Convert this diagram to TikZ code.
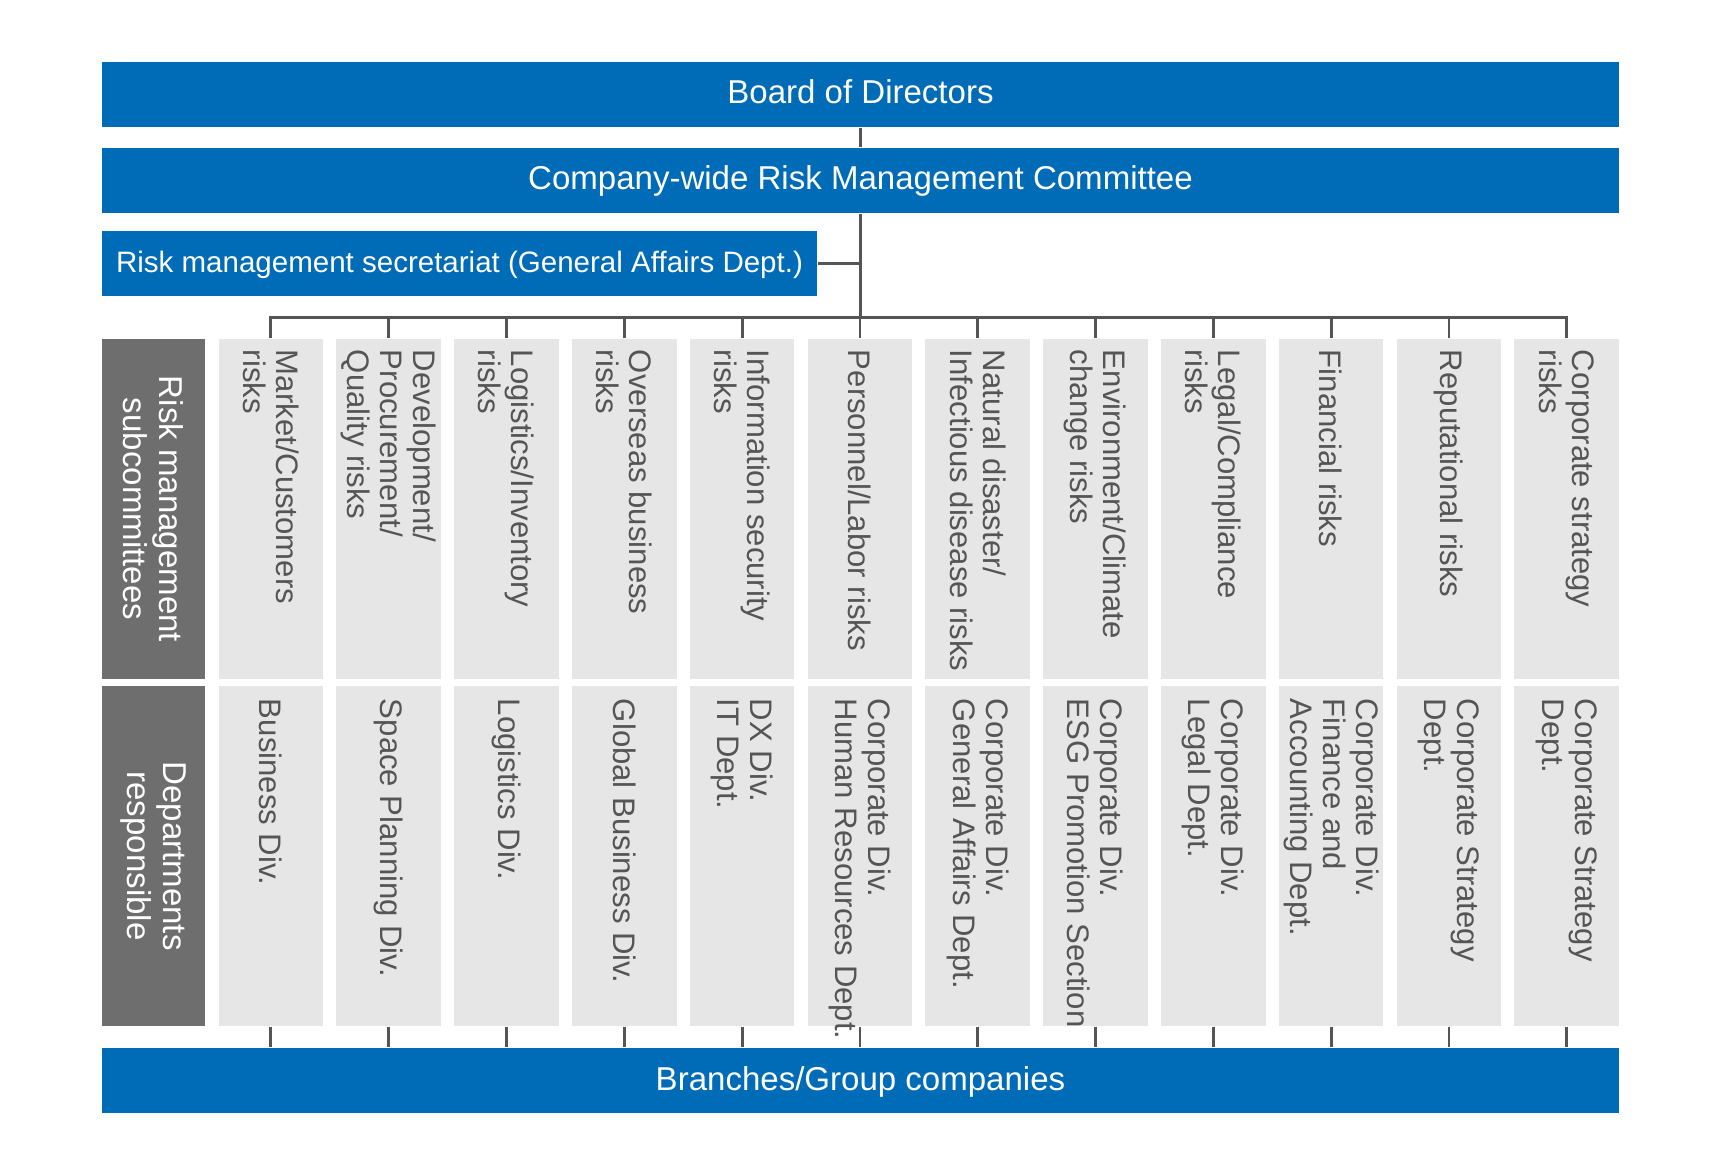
\documentclass[tikz,border=0pt]{standalone}
\usepackage{fontspec}
\setmainfont{Liberation Sans}
\usetikzlibrary{positioning, calc}

\definecolor{boardblue}{RGB}{0,107,182}
\definecolor{boxgray}{RGB}{230,230,230}
\definecolor{labelgray}{RGB}{110,110,110}
\definecolor{textgray}{RGB}{85,85,85}

\tikzset{
  bluebar/.style={fill=boardblue, text=white, minimum width=15.17cm, minimum height=0.65cm, inner sep=0, text height=0.23cm, text depth=0.05cm, font=\fontsize{9.4}{11}\selectfont},
  labelbox/.style={fill=labelgray, text=white, rotate=-90, minimum width=3.40cm, minimum height=1.03cm, inner sep=0, align=center, font=\fontsize{9.4}{10.3}\selectfont},
  riskbox/.style={fill=boxgray, minimum width=1.045cm, minimum height=3.40cm, inner sep=0},
  risktext/.style={rotate=-90, anchor=west, align=left, inner sep=0, text=textgray, font=\fontsize{8.85}{9.4}\selectfont},
  link/.style={draw=textgray, line width=0.8pt}
}

\begin{document}
\begin{tikzpicture}
        \useasboundingbox (0,0) rectangle (17.2,11.76);

        % Top boxes
        \node[bluebar] (board) at (8.605, 10.815) {Board of Directors};
        \node[bluebar] (com) at (8.605, 9.955) {Company-wide Risk Management Committee};
        \node[bluebar, minimum width=7.15cm, font=\fontsize{8.4}{10}\selectfont] (sec) at (4.595, 9.125) {Risk management secretariat (General Affairs Dept.)};

        % Row labels
        \node[labelbox] (lab1) at (1.535, 6.67) {Risk management\\subcommittees};
        \node[labelbox] (lab2) at (1.535, 3.20) {Departments\\responsible};

        % Subcommittees
        \node[riskbox] (r0) at (2.709, 6.67) {};
        \node[riskbox] (r1) at (3.887, 6.67) {};
        \node[riskbox] (r2) at (5.065, 6.67) {};
        \node[riskbox] (r3) at (6.243, 6.67) {};
        \node[riskbox] (r4) at (7.421, 6.67) {};
        \node[riskbox] (r5) at (8.599, 6.67) {};
        \node[riskbox] (r6) at (9.777, 6.67) {};
        \node[riskbox] (r7) at (10.955, 6.67) {};
        \node[riskbox] (r8) at (12.133, 6.67) {};
        \node[riskbox] (r9) at (13.311, 6.67) {};
        \node[riskbox] (r10) at (14.489, 6.67) {};
        \node[riskbox] (r11) at (15.667, 6.67) {};

        \node[risktext] (r0t) at ([yshift=-0.11cm]r0.north) {Market/Customers\\risks};
        \node[risktext] (r1t) at ([yshift=-0.11cm]r1.north) {Development/\\Procurement/\\Quality risks};
        \node[risktext] (r2t) at ([yshift=-0.11cm]r2.north) {Logistics/Inventory\\risks};
        \node[risktext] (r3t) at ([yshift=-0.11cm]r3.north) {Overseas business\\risks};
        \node[risktext] (r4t) at ([yshift=-0.11cm]r4.north) {Information security\\risks};
        \node[risktext] (r5t) at ([yshift=-0.11cm]r5.north) {Personnel/Labor risks};
        \node[risktext] (r6t) at ([yshift=-0.11cm]r6.north) {Natural disaster/\\Infectious disease risks};
        \node[risktext] (r7t) at ([yshift=-0.11cm]r7.north) {Environment/Climate\\change risks};
        \node[risktext] (r8t) at ([yshift=-0.11cm]r8.north) {Legal/Compliance\\risks};
        \node[risktext] (r9t) at ([yshift=-0.11cm]r9.north) {Financial risks};
        \node[risktext] (r10t) at ([yshift=-0.11cm]r10.north) {Reputational risks};
        \node[risktext] (r11t) at ([yshift=-0.11cm]r11.north) {Corporate strategy\\risks};

        % Departments
        \node[riskbox] (d0) at (2.709, 3.20) {};
        \node[riskbox] (d1) at (3.887, 3.20) {};
        \node[riskbox] (d2) at (5.065, 3.20) {};
        \node[riskbox] (d3) at (6.243, 3.20) {};
        \node[riskbox] (d4) at (7.421, 3.20) {};
        \node[riskbox] (d5) at (8.599, 3.20) {};
        \node[riskbox] (d6) at (9.777, 3.20) {};
        \node[riskbox] (d7) at (10.955, 3.20) {};
        \node[riskbox] (d8) at (12.133, 3.20) {};
        \node[riskbox] (d9) at (13.311, 3.20) {};
        \node[riskbox] (d10) at (14.489, 3.20) {};
        \node[riskbox] (d11) at (15.667, 3.20) {};

        \node[risktext] (d0t) at ([yshift=-0.13cm]d0.north) {Business Div.};
        \node[risktext] (d1t) at ([yshift=-0.13cm]d1.north) {Space Planning Div.};
        \node[risktext] (d2t) at ([yshift=-0.13cm]d2.north) {Logistics Div.};
        \node[risktext] (d3t) at ([yshift=-0.13cm]d3.north) {Global Business Div.};
        \node[risktext] (d4t) at ([yshift=-0.13cm]d4.north) {DX Div.\\IT Dept.};
        \node[risktext] (d5t) at ([yshift=-0.13cm]d5.north) {Corporate Div.\\Human Resources Dept.};
        \node[risktext] (d6t) at ([yshift=-0.13cm]d6.north) {Corporate Div.\\General Affairs Dept.};
        \node[risktext] (d7t) at ([yshift=-0.13cm]d7.north) {Corporate Div.\\ESG Promotion Section};
        \node[risktext] (d8t) at ([yshift=-0.13cm]d8.north) {Corporate Div.\\Legal Dept.};
        \node[risktext] (d9t) at ([yshift=-0.13cm]d9.north) {Corporate Div.\\Finance and\\Accounting Dept.};
        \node[risktext] (d10t) at ([yshift=-0.13cm]d10.north) {Corporate Strategy\\Dept.};
        \node[risktext] (d11t) at ([yshift=-0.13cm]d11.north) {Corporate Strategy\\Dept.};

        % Bottom box
        \node[bluebar, text depth=0.02cm] (branch) at (8.605, 0.955) {Branches/Group companies};

        % Lines
        \coordinate (bus) at ([yshift=0.21cm]r5.north);
        \draw[link] (board.south) -- (com.north);
        \draw[link] (com.south) -- (com.south |- bus);
        \draw[link] (sec.east) -- (sec.east -| com.south);
        \draw[link] (r0.north) |- (bus) -| (r11.north);
        \foreach \i in {1,...,10}
                \draw[link] (r\i.north) -- (r\i.north |- bus);
        \foreach \i in {0,...,11}
                \draw[link] (d\i.south) -- (d\i.south |- branch.north);
\end{tikzpicture}
\end{document}
